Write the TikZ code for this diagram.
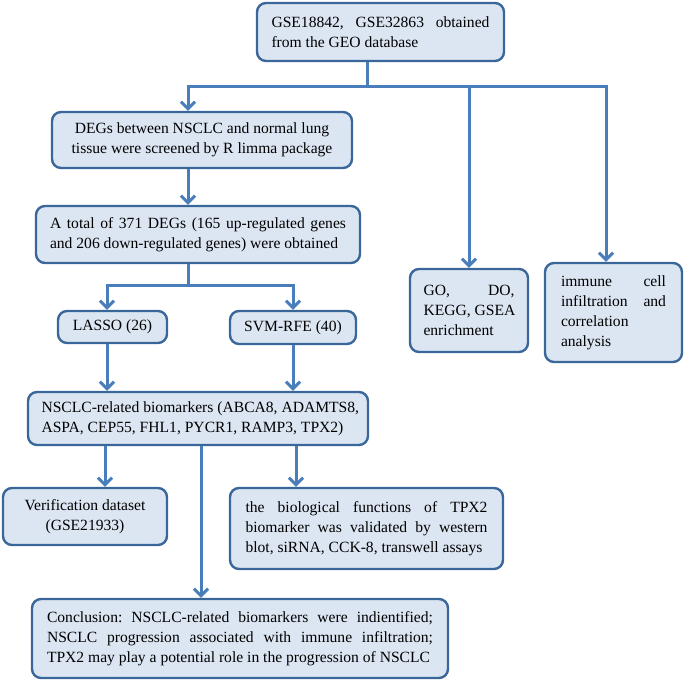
\documentclass[tikz,border=0pt]{standalone}
\usepackage{fontspec}
\setmainfont{Liberation Serif}
\usetikzlibrary{arrows.meta}
\definecolor{boxfill}{HTML}{DCE6F2}
\definecolor{boxdraw}{HTML}{3A679A}
\definecolor{linecol}{HTML}{4A7EBB}
\newcommand\resetsp{\spaceskip=0pt\xspaceskip=0pt\frenchspacing\hyphenpenalty=10000\exhyphenpenalty=10000\relax}
\begin{document}
\begin{tikzpicture}[x=1pt,y=-1pt,
 box/.style={draw=boxdraw, line width=2.4pt, fill=boxfill, rounded corners=9pt, inner sep=0pt, font=\fontsize{15.6}{20}\selectfont, text=black, execute at begin node={\resetsp}},
 conn/.style={draw=linecol, line width=3pt},
 arr/.style={conn, -{Straight Barb[length=7pt,width=14pt]}}]
\useasboundingbox (0,0) rectangle (685,682);

\node[box, minimum width=247pt, minimum height=58pt, text width=218pt, align=left] (top) at (380.5,32)
 {\makebox[218pt][s]{GSE18842, GSE32863 obtained}\\\mbox{from the GEO database}};
\node[box, minimum width=300pt, minimum height=56pt, align=center] (degs) at (202,140)
 {DEGs between NSCLC and normal lung\\tissue were screened by R limma package};
\node[box, minimum width=324pt, minimum height=57pt, text width=296pt, align=left] (total) at (198,234.5)
 {\makebox[296pt][s]{A total of 371 DEGs (165 up-regulated genes}\\\mbox{and 206 down-regulated genes) were obtained}};
\node[box, minimum width=109pt, minimum height=32pt, align=center] (lasso) at (112.5,327) {LASSO (26)};
\node[box, minimum width=126pt, minimum height=33pt, align=center] (svm) at (293,327.5) {SVM-RFE (40)};
\node[box, minimum width=118pt, minimum height=83pt, text width=91pt, align=left] (go) at (469,310.5)
 {\makebox[91pt][s]{GO, DO,}\\\mbox{KEGG, GSEA}\\\mbox{enrichment}};
\node[box, minimum width=137pt, minimum height=99pt, text width=105pt, align=left] (imm) at (613.5,312.5)
 {\makebox[105pt][s]{immune cell}\\\makebox[105pt][s]{infiltration and}\\\mbox{correlation}\\\mbox{analysis}};
\node[box, minimum width=340pt, minimum height=53pt, text width=313pt, align=left] (bio) at (198,418.5)
 {\mbox{NSCLC-related biomarkers (ABCA8, ADAMTS8,}\\\mbox{ASPA, CEP55, FHL1, PYCR1, RAMP3, TPX2)}};
\node[box, minimum width=164pt, minimum height=57pt, align=center] (ver) at (85,516.5)
 {Verification dataset\\(GSE21933)};
\node[box, minimum width=273pt, minimum height=81pt, text width=242pt, align=left] (tpx) at (366.5,528.5)
 {\makebox[242pt][s]{the biological functions of TPX2}\\\makebox[242pt][s]{biomarker was validated by western}\\\mbox{blot, siRNA, CCK-8, transwell assays}};
\node[box, minimum width=416pt, minimum height=79pt, text width=386pt, align=left] (con) at (240,638.5)
 {\makebox[386pt][s]{Conclusion: NSCLC-related biomarkers were indientified;}\\\makebox[386pt][s]{NSCLC progression associated with immune infiltration;}\\\mbox{TPX2 may play a potential role in the progression of NSCLC}};

\coordinate (jtop) at (367,87);
\coordinate (xdeg) at (188,87);
\coordinate (xgo) at (469,87);
\coordinate (ximm) at (606,87);
\draw[conn] (top.south -| jtop) -- (jtop);
\draw[arr] (jtop) -| (xdeg |- degs.north);
\draw[arr] (jtop) -| (ximm |- imm.north);
\draw[arr] (xgo) -- (xgo |- go.north);
\draw[arr] (degs.south -| xdeg) -- (total.north -| xdeg);

\coordinate (jmid) at (188,285);
\coordinate (xl) at (107,285);
\coordinate (xr) at (293,285);
\draw[conn] (total.south -| jmid) -- (jmid);
\draw[arr] (jmid) -| (xl |- lasso.north);
\draw[arr] (jmid) -| (xr |- svm.north);
\draw[arr] (lasso.south -| xl) -- (bio.north -| xl);
\draw[arr] (svm.south -| xr) -- (bio.north -| xr);

\coordinate (xver) at (105,470);
\coordinate (xtpx) at (296,470);
\coordinate (xcon) at (201,470);
\draw[arr] (bio.south -| xver) -- (ver.north -| xver);
\draw[arr] (bio.south -| xtpx) -- (tpx.north -| xtpx);
\draw[arr] (bio.south -| xcon) -- (con.north -| xcon);
\end{tikzpicture}
\end{document}
